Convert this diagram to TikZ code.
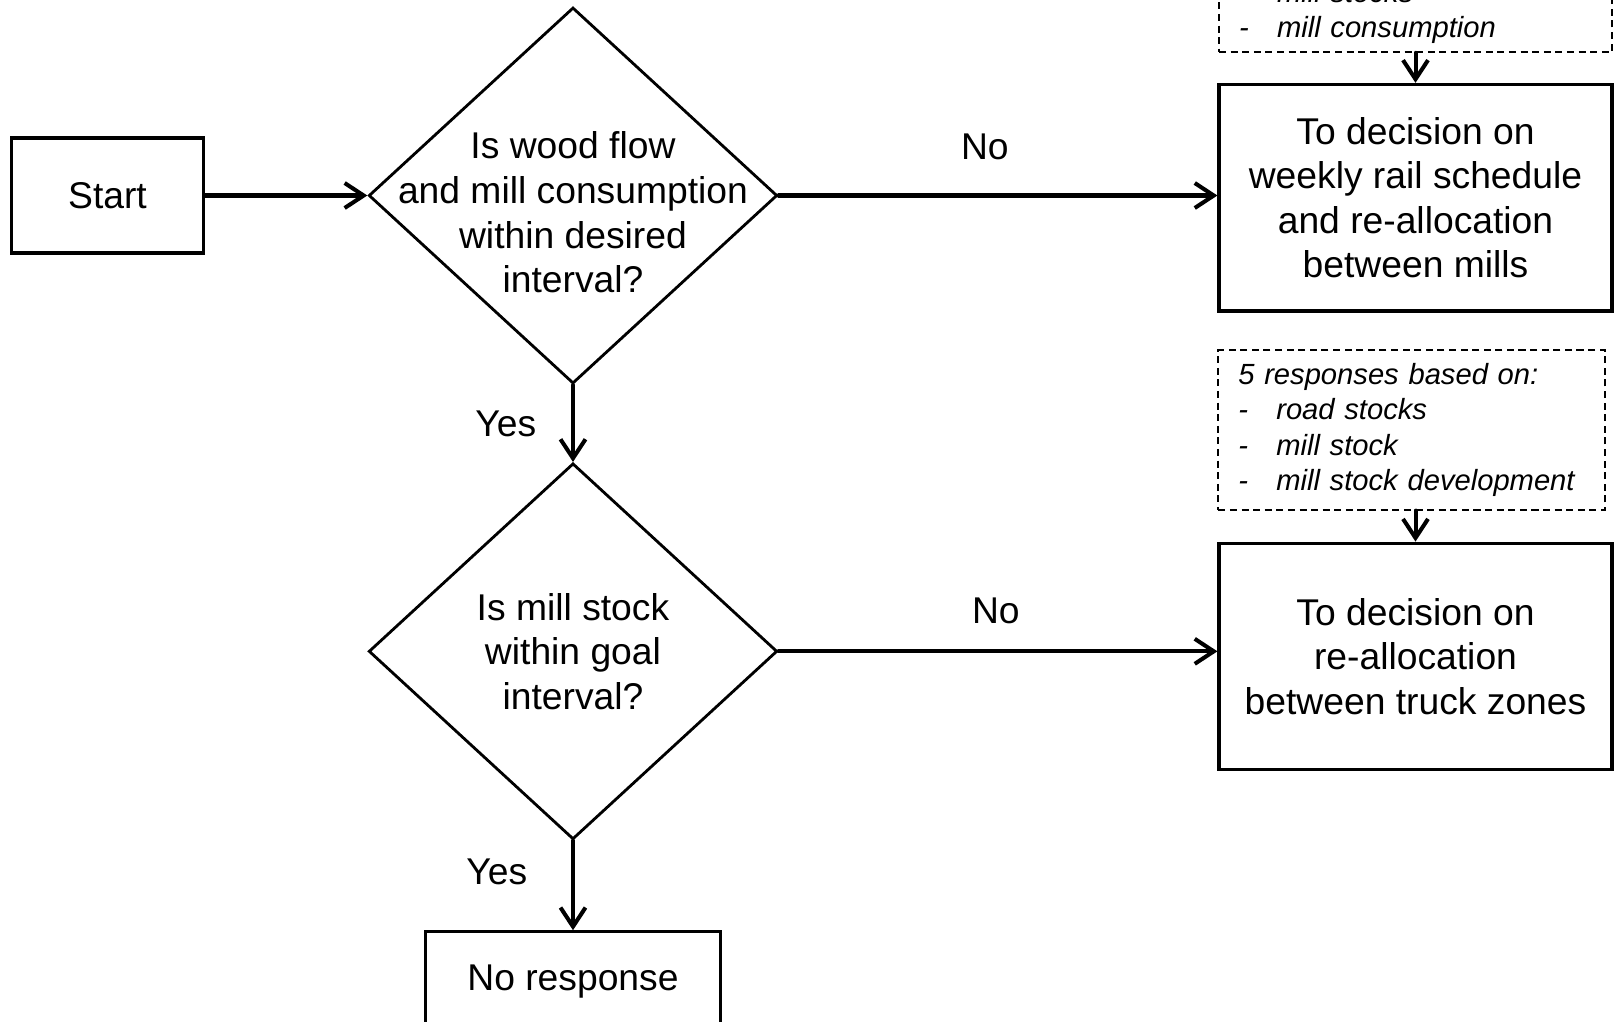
\documentclass[tikz,border=0pt]{standalone}
\usepackage{fontspec}
\setmainfont{Liberation Sans}
\usetikzlibrary{positioning,arrows.meta,shapes.geometric}

\begin{document}
\begin{tikzpicture}[
  mainfont/.style={font=\fontsize{10.6pt}{12.7pt}\selectfont},
  box/.style={draw, line width=0.9pt, align=center, mainfont},
  decision/.style={diamond, draw, line width=0.8pt, inner sep=0pt, minimum width=4.085cm, minimum height=3.76cm},
  note/.style={draw, line width=0.5pt, dash pattern=on 2pt off 1.3pt, align=left, text width=3.47cm, inner xsep=0.2cm, font=\fontsize{8.3pt}{10pt}\selectfont\itshape},
  flow/.style={-{Straight Barb[length=1.9mm,width=2.5mm]}, line width=1.15pt, line cap=round},
  answer/.style={mainfont}
]
\useasboundingbox (0,0) rectangle (16.14,-10.21);
\clip (0,0) rectangle (16.14,-10.21);

\node[box, minimum width=1.925cm, minimum height=1.15cm] (start) at (1.075,-1.955) {Start};
\node[decision, right=1.62cm of start, label={[mainfont, align=center, yshift=-0.17cm]center:{Is wood flow\\and mill consumption\\within desired\\interval?}}] (wood) {};
\node[decision, below=0.77cm of wood, label={[mainfont, align=center]center:{Is mill stock\\within goal\\interval?}}] (stock) {};
\node[box, minimum width=2.945cm, minimum height=1.0cm, below=0.895cm of stock] (noresp) {No response};

\node[box, minimum width=3.93cm, minimum height=2.266cm] (rail) at (14.155,-1.977) {To decision on\\weekly rail schedule\\and re-allocation\\between mills};
\node[note, text width=3.53cm, inner ysep=0.08cm, above=0.3cm of rail] (railnote) {\makebox[0.38cm][l]{-}mill stocks\\\makebox[0.38cm][l]{-}mill consumption};
\node[box, minimum width=3.93cm, minimum height=2.265cm, below=2.29cm of rail] (zone) {To decision on\\re-allocation\\between truck zones};
\node[note, minimum height=1.595cm, above=0.31cm of zone.north west, anchor=south west] (zonenote) {5 responses based on:\\\makebox[0.38cm][l]{-}road stocks\\\makebox[0.38cm][l]{-}mill stock\\\makebox[0.38cm][l]{-}mill stock development};

\draw[flow] (start) -- (wood);
\draw[flow] (wood.east) -- (wood.east -| rail.west) node[answer, pos=0.47, above=0.22cm] {No};
\draw[flow] (wood.south) -- (stock.north) node[answer, midway, left=0.23cm] {Yes};
\draw[flow] (stock.east) -- (stock.east -| zone.west) node[answer, pos=0.495, above=0.14cm] {No};
\draw[flow] (stock.south) -- (noresp.north) node[answer, pos=0.35, left=0.32cm] {Yes};
\draw[flow] (railnote.south) -- (rail.north);
\draw[flow] (zonenote.south -| zone.north) -- (zone.north);
\end{tikzpicture}
\end{document}
